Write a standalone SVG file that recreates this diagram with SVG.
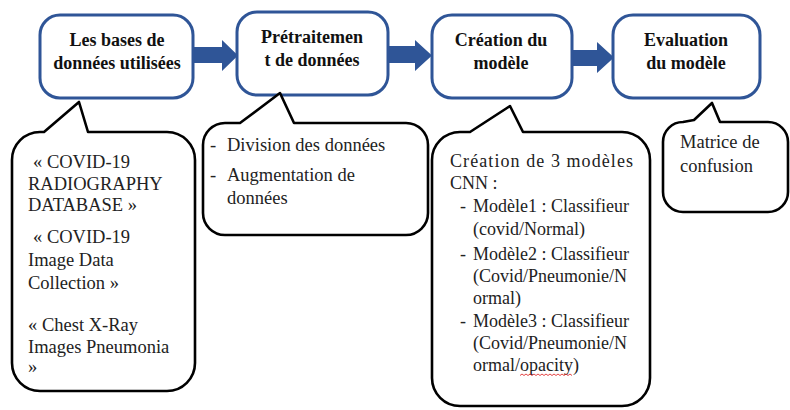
<svg xmlns="http://www.w3.org/2000/svg" width="790" height="410" viewBox="0 0 790 410">
  <style>
    .step { fill: #ffffff; stroke: #2f5597; stroke-width: 3; }
    .title { font-family: "Liberation Serif", "Times New Roman", serif; font-weight: bold; font-size: 18px; fill: #111; text-anchor: middle; }
    .bubble { fill: #ffffff; stroke: #000; stroke-width: 2.6; stroke-linejoin: round; }
    .note { font-family: "Liberation Serif", "Times New Roman", serif; font-size: 18.5px; fill: #222; }
    .note-sm { font-family: "Liberation Serif", "Times New Roman", serif; font-size: 18px; fill: #222; }
    .flow { fill: #2f5597; }
  </style>

  <!-- flow arrows between steps -->
  <g id="connectors">
    <polygon class="flow" points="194,47 222,47 222,40 238,55.5 222,71 222,63 194,63"/>
    <polygon class="flow" points="388,46 415,46 415,40 432,55.5 415,71 415,63 388,63"/>
    <polygon class="flow" points="572,50 597,50 597,42 614,57.5 597,73 597,66 572,66"/>
  </g>

  <!-- step boxes -->
  <g id="step-bases">
    <rect class="step" x="40" y="15" width="153" height="83" rx="20"/>
    <text class="title" x="117" y="46">Les bases de</text>
    <text class="title" x="117" y="69">données utilisées</text>
  </g>
  <g id="step-pretraitement">
    <rect class="step" x="237" y="12" width="151" height="83" rx="20"/>
    <text class="title" x="312" y="43">Prétraitemen</text>
    <text class="title" x="312" y="66">t de données</text>
  </g>
  <g id="step-creation">
    <rect class="step" x="432" y="15" width="140" height="83" rx="20"/>
    <text class="title" x="501" y="46">Création du</text>
    <text class="title" x="501" y="69">modèle</text>
  </g>
  <g id="step-evaluation">
    <rect class="step" x="613" y="15" width="147" height="83" rx="20"/>
    <text class="title" x="686" y="46">Evaluation</text>
    <text class="title" x="686" y="69">du modèle</text>
  </g>

  <!-- callout: datasets -->
  <g id="note-bases">
    <path class="bubble" d="M40,132 L44,132 L79,102 L88,132 L167,132 A28,28 0 0 1 195,160 L195,363 A28,28 0 0 1 167,391 L40,391 A28,28 0 0 1 12,363 L12,160 A28,28 0 0 1 40,132 Z"/>
    <text class="note" x="33" y="168">« COVID-19</text>
    <text class="note" x="28" y="190">RADIOGRAPHY</text>
    <text class="note" x="28" y="211">DATABASE »</text>
    <text class="note" x="33" y="243">« COVID-19</text>
    <text class="note" x="28" y="266">Image Data</text>
    <text class="note" x="28" y="289">Collection »</text>
    <text class="note" x="28" y="331">« Chest X-Ray</text>
    <text class="note" x="28" y="353">Images Pneumonia</text>
    <text class="note" x="28" y="373">»</text>
  </g>

  <!-- callout: preprocessing -->
  <g id="note-pretraitement">
    <path class="bubble" d="M225,123 L240,123 L280,93 L294,123 L406,123 A22,22 0 0 1 428,145 L428,213 A22,22 0 0 1 406,235 L225,235 A22,22 0 0 1 203,213 L203,145 A22,22 0 0 1 225,123 Z"/>
    <text class="note" x="210" y="151">-</text>
    <text class="note" x="227" y="151">Division des données</text>
    <text class="note" x="210" y="181">-</text>
    <text class="note" x="227" y="181">Augmentation de</text>
    <text class="note" x="227" y="204">données</text>
  </g>

  <!-- callout: models -->
  <g id="note-creation">
    <path class="bubble" d="M460,132 L470,132 L510,106 L523,132 L622,132 A28,28 0 0 1 650,160 L650,378 A28,28 0 0 1 622,406 L460,406 A28,28 0 0 1 432,378 L432,160 A28,28 0 0 1 460,132 Z"/>
    <text class="note-sm" x="450" y="167" textLength="183" lengthAdjust="spacing">Création de 3 modèles</text>
    <text class="note-sm" x="450" y="189">CNN :</text>
    <text class="note-sm" x="460" y="212">-</text>
    <text class="note-sm" x="473" y="212">Modèle1 : Classifieur</text>
    <text class="note-sm" x="473" y="235">(covid/Normal)</text>
    <text class="note-sm" x="460" y="260">-</text>
    <text class="note-sm" x="473" y="260">Modèle2 : Classifieur</text>
    <text class="note-sm" x="473" y="282">(Covid/Pneumonie/N</text>
    <text class="note-sm" x="473" y="304">ormal)</text>
    <text class="note-sm" x="460" y="327">-</text>
    <text class="note-sm" x="473" y="327">Modèle3 : Classifieur</text>
    <text class="note-sm" x="473" y="349">(Covid/Pneumonie/N</text>
    <text class="note-sm" x="473" y="371">ormal/opacity)</text>
    <!-- spell-check squiggle under "opacity" -->
    <path d="M520,375.5 l2,-1.5 l2,1.5 l2,-1.5 l2,1.5 l2,-1.5 l2,1.5 l2,-1.5 l2,1.5 l2,-1.5 l2,1.5 l2,-1.5 l2,1.5 l2,-1.5 l2,1.5 l2,-1.5 l2,1.5 l2,-1.5 l2,1.5 l2,-1.5 l2,1.5 l2,-1.5 l2,1.5 l2,-1.5 l2,1.5 l2,-1.5 l2,1.5" fill="none" stroke="#e03030" stroke-width="0.9"/>
  </g>

  <!-- callout: evaluation -->
  <g id="note-evaluation">
    <path class="bubble" d="M683,122 L694,120 L712,103 L720,122 L768,122 A20,20 0 0 1 788,142 L788,192 A20,20 0 0 1 768,212 L683,212 A20,20 0 0 1 663,192 L663,142 A20,20 0 0 1 683,122 Z"/>
    <text class="note" x="680" y="148">Matrice de</text>
    <text class="note" x="680" y="172">confusion</text>
  </g>
</svg>
